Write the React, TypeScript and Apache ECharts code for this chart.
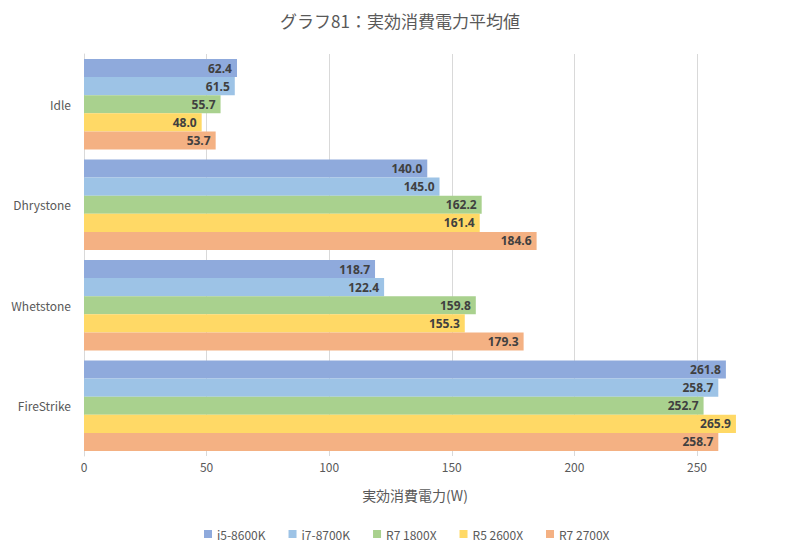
import React, { useEffect, useRef } from "react";
import * as echarts from "echarts";

const categories = ["Idle", "Dhrystone", "Whetstone", "FireStrike"];
const seriesNames = ["i5-8600K", "i7-8700K", "R7 1800X", "R5 2600X", "R7 2700X"];
const i5_8600K = [62.4, 140.0, 118.7, 261.8];
const i7_8700K = [61.5, 145.0, 122.4, 258.7];
const r7_1800X = [55.7, 162.2, 159.8, 252.7];
const r5_2600X = [48.0, 161.4, 155.3, 265.9];
const r7_2700X = [53.7, 184.6, 179.3, 258.7];
const colors = ["#8FAADC", "#9DC3E6", "#A9D18E", "#FFD966", "#F4B183"];
const xTicks = [0, 50, 100, 150, 200, 250];

const FONT = "'Noto Sans CJK JP', 'Noto Sans', sans-serif";

export default function App() {
  const ref = useRef<HTMLDivElement>(null);
  useEffect(() => {
    if (!ref.current) return;
    const chart = echarts.init(ref.current, undefined, { renderer: "svg" });
    const data = [i5_8600K, i7_8700K, r7_1800X, r5_2600X, r7_2700X];
    chart.setOption({
      animation: false,
      backgroundColor: "#ffffff",
      title: {
        text: "グラフ81：実効消費電力平均値",
        left: "center",
        top: 7,
        textStyle: { fontFamily: FONT, fontSize: 17, fontWeight: "normal", color: "#595959" },
      },
      legend: {
        data: seriesNames,
        bottom: 13,
        left: 199,
        itemWidth: 8,
        itemHeight: 8,
        itemGap: 23,
        icon: "rect",
        textStyle: { fontFamily: FONT, fontSize: 12, color: "#595959" },
      },
      grid: { left: 84, right: 54, top: 54, bottom: 102, containLabel: false },
      xAxis: {
        type: "value",
        min: 0,
        max: 270,
        interval: 50,
        name: "実効消費電力(W)",
        nameLocation: "middle",
        nameGap: 32,
        nameTextStyle: { fontFamily: FONT, fontSize: 14, color: "#595959" },
        axisLine: { show: false },
        axisTick: { show: false },
        axisLabel: {
          fontFamily: FONT,
          fontSize: 12,
          color: "#595959",
          margin: 4,
          showMaxLabel: false,
          formatter: (v: number) => (xTicks.includes(v) ? String(v) : ""),
        },
        splitLine: { show: true, showMaxLine: false, lineStyle: { color: "#D9D9D9", width: 1 } },
      },
      yAxis: {
        type: "category",
        data: categories,
        inverse: true,
        axisLine: { show: true, lineStyle: { color: "#D9D9D9" } },
        axisTick: { show: false },
        axisLabel: { fontFamily: FONT, fontSize: 12, color: "#595959", margin: 13 },
      },
      series: seriesNames.map((name, i) => ({
        name,
        type: "bar",
        data: data[i],
        barGap: "0%",
        barCategoryGap: "10%",
        itemStyle: { color: colors[i] },
        label: {
          show: true,
          position: "insideRight",
          distance: 5,
          formatter: (p: any) => Number(p.value).toFixed(1),
          fontFamily: "'Open Sans', 'Noto Sans', sans-serif",
          fontWeight: "bold",
          fontSize: 12,
          color: "#404040",
        },
      })),
    });
    return () => chart.dispose();
  }, []);
  return (
    <div
      ref={ref}
      style={{ position: "absolute", left: 0, top: 0, width: 800, height: 558 }}
    />
  );
}
